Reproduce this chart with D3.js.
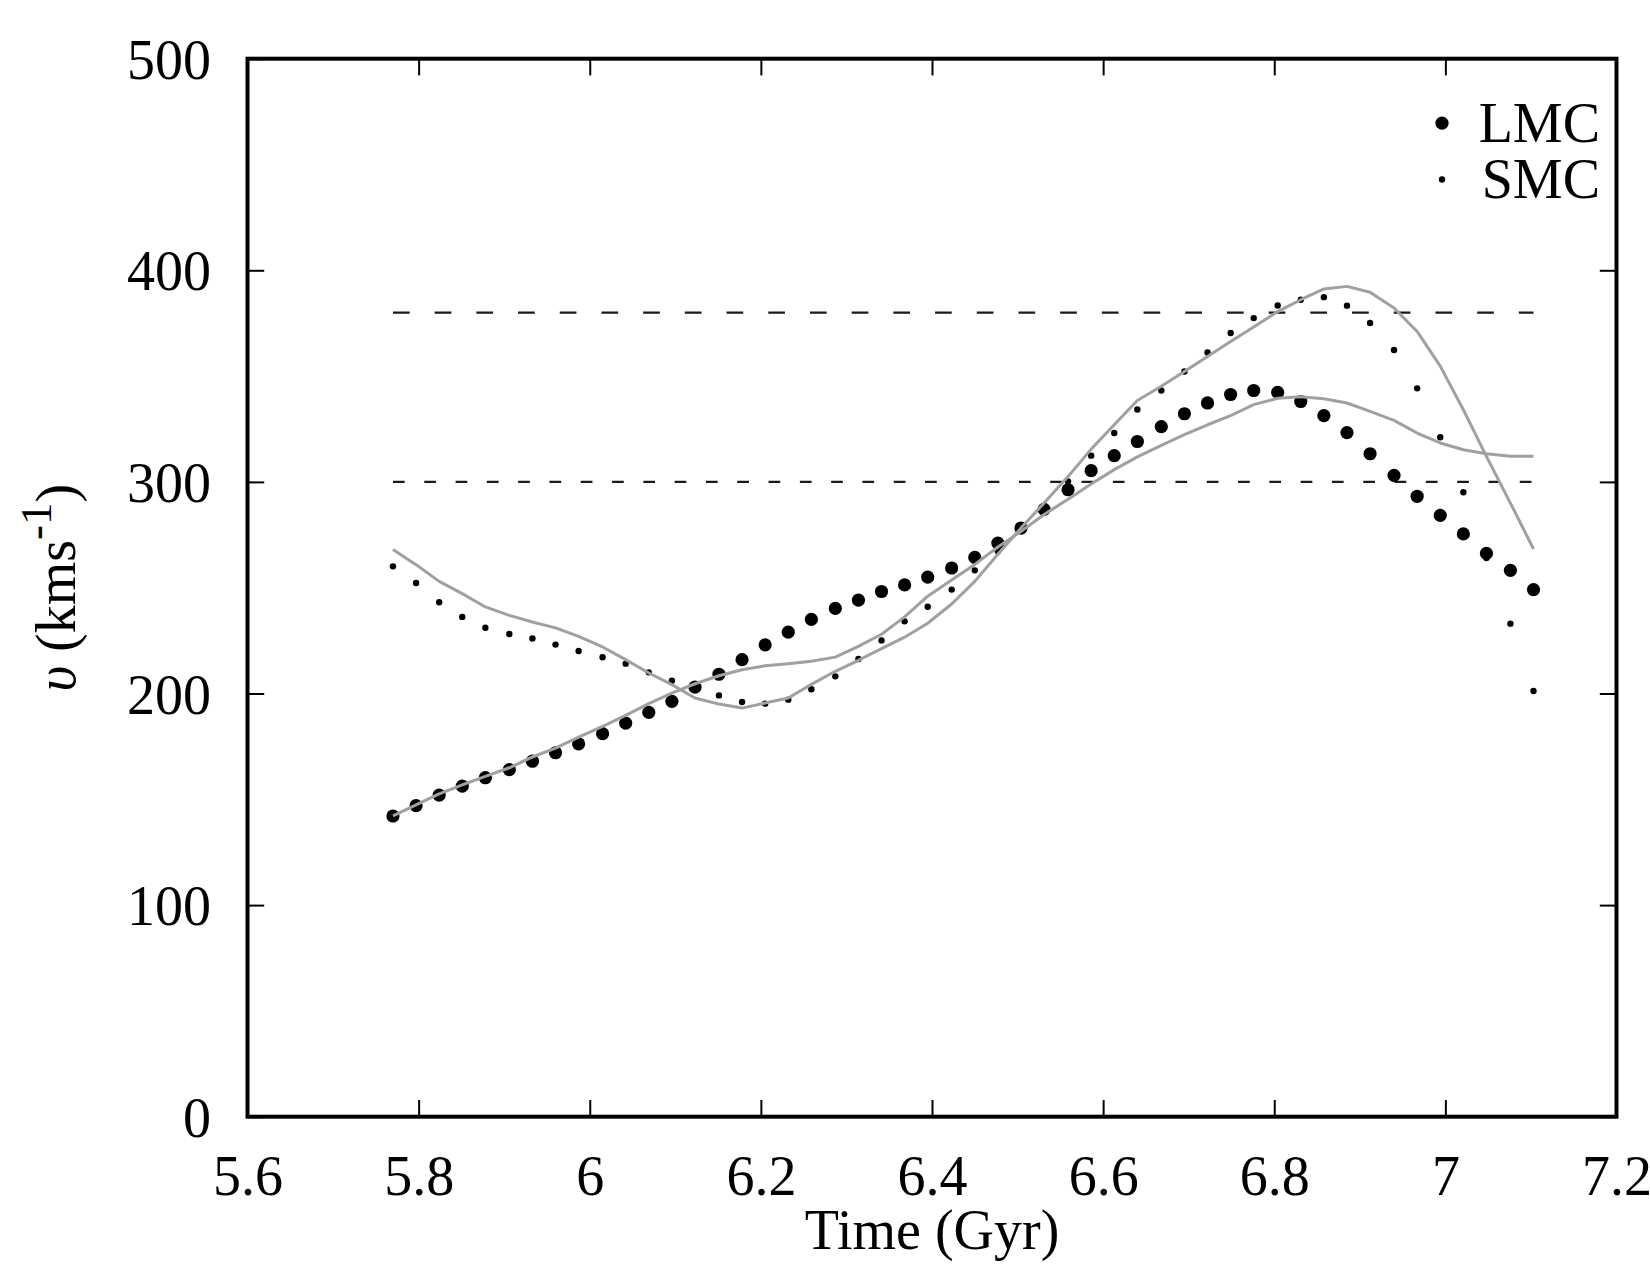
<!DOCTYPE html>
<html>
<head>
<meta charset="utf-8">
<script src="https://cdn.jsdelivr.net/npm/d3@7"></script>
<style>
  html, body { margin: 0; padding: 0; background: #ffffff; }
  svg { display: block; }
</style>
</head>
<body>
<svg id="chart" width="1650" height="1275"></svg>
<script>
// ---- data ----
const times = [5.770, 5.797, 5.824, 5.851, 5.878, 5.906, 5.933, 5.960, 5.987, 6.015,
               6.042, 6.069, 6.096, 6.123, 6.151, 6.178, 6.205, 6.232, 6.259, 6.287,
               6.314, 6.341, 6.368, 6.395, 6.423, 6.450, 6.477, 6.504, 6.531, 6.559,
               6.586, 6.613, 6.640, 6.668, 6.695, 6.722, 6.749, 6.776, 6.804, 6.831,
               6.858, 6.885, 6.912, 6.940, 6.967, 6.994, 7.021, 7.048, 7.076, 7.103];

const lmcSpeed = [142.1, 147.0, 152.0, 156.2, 160.2, 164.0, 168.0, 172.0, 176.2, 181.0,
                  186.0, 191.1, 196.3, 203.0, 209.1, 216.0, 223.0, 229.0, 235.0, 240.2,
                  244.1, 248.2, 251.3, 255.0, 259.3, 264.3, 271.1, 278.2, 287.0, 296.3,
                  305.3, 312.4, 319.1, 326.1, 332.2, 337.3, 341.3, 343.2, 342.3, 338.0,
                  331.3, 323.3, 313.3, 303.1, 293.2, 284.2, 275.4, 266.2, 258.2, 249.1];

const smcSpeed = [260.1, 252.2, 243.1, 236.2, 231.1, 228.1, 226.0, 223.1, 220.1, 217.1,
                  214.1, 210.0, 206.0, 202.5, 199.1, 196.0, 195.2, 197.1, 202.0, 208.1,
                  216.3, 225.1, 234.1, 241.0, 249.1, 258.2, 267.2, 277.5, 288.5, 300.2,
                  312.4, 323.1, 334.2, 343.2, 352.2, 361.2, 370.4, 377.4, 383.4, 386.1,
                  387.3, 383.3, 375.1, 362.3, 344.2, 321.1, 295.1, 264.0, 233.0, 201.2];

const lmcModel = [142.2, 147.4, 152.6, 156.8, 160.8, 164.9, 170.0, 174.2, 179.4, 184.5,
                  189.7, 195.2, 200.2, 204.6, 208.4, 211.2, 213.1, 214.1, 215.2, 217.2,
                  222.3, 228.0, 236.2, 246.0, 253.6, 261.0, 269.2, 276.6, 284.6, 291.8,
                  299.0, 305.8, 311.8, 317.3, 322.3, 327.0, 331.3, 336.5, 339.5, 340.2,
                  339.3, 337.3, 333.3, 329.1, 323.1, 318.4, 315.2, 313.3, 312.1, 312.1];

const smcModel = [268.0, 260.9, 253.0, 247.2, 240.9, 236.9, 233.8, 231.0, 227.0, 222.0,
                  216.0, 209.7, 204.2, 197.9, 195.0, 193.1, 195.5, 197.9, 204.3, 210.5,
                  215.7, 221.2, 226.6, 233.2, 242.3, 253.0, 265.8, 278.2, 290.0, 302.5,
                  315.5, 327.0, 338.5, 345.2, 352.2, 359.3, 366.4, 373.2, 380.5, 386.1,
                  391.2, 392.4, 389.6, 382.2, 371.1, 354.7, 334.1, 312.1, 290.0, 268.3];

const refSpeeds = [300, 380];

const xTicks = [5.6, 5.8, 6.0, 6.2, 6.4, 6.6, 6.8, 7.0, 7.2];
const xTickLabels = ["5.6", "5.8", "6", "6.2", "6.4", "6.6", "6.8", "7", "7.2"];
const yTicks = [0, 100, 200, 300, 400, 500];
const yTickLabels = ["0", "100", "200", "300", "400", "500"];

const legendNames = ["LMC", "SMC"];

// ---- layout ----
const W = 1650, H = 1275;
const L = 247.5, R = 1616.5, T = 58.7, B = 1116.7;
const FONT = "'Liberation Serif', 'Times New Roman', Times, serif";
const FS = 56;

const svg = d3.select("#chart");
svg.append("rect").attr("width", W).attr("height", H).attr("fill", "#ffffff");

const x = d3.scaleLinear().domain([5.6, 7.2]).range([L, R]);
const y = d3.scaleLinear().domain([0, 500]).range([B, T]);

const tickLen = 16.7;

function styleAxis(g) {
  g.select(".domain").remove();
  g.selectAll(".tick line").attr("stroke", "#000").attr("stroke-width", 2);
  g.selectAll(".tick text")
    .attr("font-family", FONT).attr("font-size", FS).attr("fill", "#000");
}

// bottom axis
const gB = svg.append("g").attr("transform", `translate(0,${B})`)
  .call(d3.axisBottom(x).tickValues(xTicks).tickSize(-tickLen).tickSizeOuter(0)
        .tickFormat((d, i) => xTickLabels[i]));
styleAxis(gB);
gB.selectAll(".tick text").attr("y", 78).attr("dy", 0);

// top axis
const gT = svg.append("g").attr("transform", `translate(0,${T})`)
  .call(d3.axisTop(x).tickValues(xTicks).tickSize(-tickLen).tickSizeOuter(0).tickFormat(""));
styleAxis(gT);

// left axis
const gL = svg.append("g").attr("transform", `translate(${L},0)`)
  .call(d3.axisLeft(y).tickValues(yTicks).tickSize(-tickLen).tickSizeOuter(0)
        .tickFormat((d, i) => yTickLabels[i]));
styleAxis(gL);
gL.selectAll(".tick text").attr("x", -36.5).attr("dy", "0.35em").attr("text-anchor", "end");

// right axis
const gR = svg.append("g").attr("transform", `translate(${R},0)`)
  .call(d3.axisRight(y).tickValues(yTicks).tickSize(-tickLen).tickSizeOuter(0).tickFormat(""));
styleAxis(gR);

// reference dashed lines
const tMin = d3.min(times), tMax = d3.max(times);
const dashes = { 300: "11.7,19.6", 380: "16.7,25" };
svg.append("g").selectAll("line").data(refSpeeds).join("line")
  .attr("x1", x(tMin)).attr("x2", x(tMax))
  .attr("y1", d => y(d)).attr("y2", d => y(d))
  .attr("stroke", "#1a1a1a").attr("stroke-width", 2.4)
  .attr("stroke-dasharray", d => dashes[d]);

// data points
const lmcPts = times.map((t, i) => ({ t, v: lmcSpeed[i] }));
const smcPts = times.map((t, i) => ({ t, v: smcSpeed[i] }));

svg.append("g").selectAll("circle").data(lmcPts).join("circle")
  .attr("cx", d => x(d.t)).attr("cy", d => y(d.v)).attr("r", 6.6).attr("fill", "#000");
svg.append("g").selectAll("circle").data(smcPts).join("circle")
  .attr("cx", d => x(d.t)).attr("cy", d => y(d.v)).attr("r", 3.2).attr("fill", "#000");

// model lines
const line = d3.line().x(d => x(d.t)).y(d => y(d.v));
[lmcModel, smcModel].forEach(arr => {
  svg.append("path")
    .datum(times.map((t, i) => ({ t, v: arr[i] })))
    .attr("d", line)
    .attr("fill", "none")
    .attr("stroke", "#a0a0a0")
    .attr("stroke-width", 3)
    .attr("stroke-linejoin", "round");
});

// frame
svg.append("rect")
  .attr("x", L).attr("y", T).attr("width", R - L).attr("height", B - T)
  .attr("fill", "none").attr("stroke", "#000").attr("stroke-width", 4);

// legend
const legendY = [141.7, 198];
const legendR = [6.6, 3.2];
const lg = svg.append("g");
legendNames.forEach((name, i) => {
  lg.append("text").attr("x", 1600).attr("y", legendY[i])
    .attr("text-anchor", "end").attr("font-family", FONT).attr("font-size", FS)
    .attr("fill", "#000").text(name);
  lg.append("circle").attr("cx", 1442).attr("cy", legendY[i] - 18.5)
    .attr("r", legendR[i]).attr("fill", "#000");
});

// axis titles
svg.append("text").attr("x", (L + R) / 2).attr("y", 1249)
  .attr("text-anchor", "middle").attr("font-family", FONT).attr("font-size", FS)
  .attr("fill", "#000").text("Time (Gyr)");

const yl = svg.append("text")
  .attr("transform", `translate(75,${(T + B) / 2}) rotate(-90)`)
  .attr("text-anchor", "middle").attr("font-family", FONT).attr("font-size", FS)
  .attr("fill", "#000");
yl.append("tspan").attr("font-style", "italic").text("υ");
yl.append("tspan").text(" (kms");
yl.append("tspan").attr("font-size", 45).attr("dy", -24).text("-1");
yl.append("tspan").attr("dy", 24).text(")");
</script>
</body>
</html>
